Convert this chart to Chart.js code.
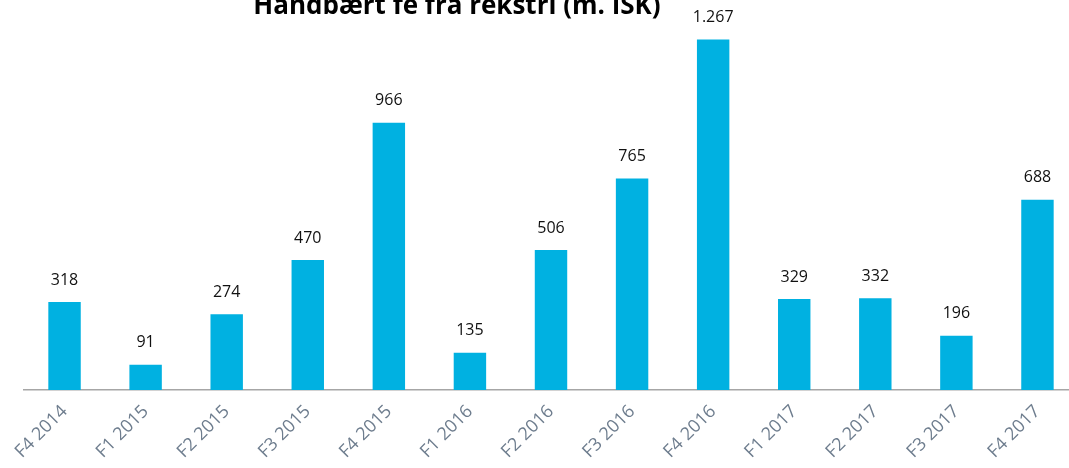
<!DOCTYPE html>
<html>
<head>
<meta charset="utf-8">
<script src="https://cdn.jsdelivr.net/npm/chart.js"></script>
<style>
  html, body { margin: 0; padding: 0; background: #fff; overflow: hidden; }
  #wrap { position: relative; width: 1080px; height: 468px; }
</style>
</head>
<body>
<div id="wrap"><canvas id="chart"></canvas></div>
<script>
const TITLE = 'Handbært fé frá rekstri (m. ISK)';
const quarters = ['F4 2014', 'F1 2015', 'F2 2015', 'F3 2015', 'F4 2015', 'F1 2016', 'F2 2016',
                  'F3 2016', 'F4 2016', 'F1 2017', 'F2 2017', 'F3 2017', 'F4 2017'];
const cashFlow = [318, 91, 274, 470, 966, 135, 506, 765, 1267, 329, 332, 196, 688];

// Icelandic style thousands separator
const fmt = v => String(v).replace(/\B(?=(\d{3})+(?!\d))/g, '.');

const labelsPlugin = {
    id: 'barLabels',
    afterDatasetsDraw(chart) {
        const ctx = chart.ctx;
        const meta = chart.getDatasetMeta(0);
        ctx.save();
        ctx.font = '16px "Open Sans", sans-serif';
        ctx.fillStyle = '#111';
        ctx.textAlign = 'center';
        ctx.textBaseline = 'middle';
        meta.data.forEach((bar, i) => {
            ctx.fillText(fmt(cashFlow[i]), bar.x, bar.y - 22);
        });
        ctx.restore();
    }
};

const titlePlugin = {
    id: 'cutTitle',
    afterDraw(chart) {
        const ctx = chart.ctx;
        ctx.save();
        ctx.font = 'bold 26px "Open Sans", sans-serif';
        ctx.fillStyle = '#000';
        ctx.textAlign = 'center';
        ctx.textBaseline = 'alphabetic';
        ctx.fillText(TITLE, 457, 14);
        ctx.restore();
    }
};

new Chart(document.getElementById('chart'), {
    type: 'bar',
    data: {
        labels: quarters,
        datasets: [{
            data: cashFlow,
            backgroundColor: '#00b1e1',
            barPercentage: 0.4,
            categoryPercentage: 1.0
        }]
    },
    options: {
        responsive: true,
        maintainAspectRatio: false,
        animation: false,
        layout: { padding: { left: 24, right: 2, top: 0, bottom: 0 } },
        plugins: { legend: { display: false }, tooltip: { enabled: false } },
        scales: {
            x: {
                grid: { display: false, drawTicks: false },
                border: { color: '#a6a6a6', width: 1.5 },
                ticks: {
                    color: '#6e7d8e',
                    font: { family: '"Open Sans", sans-serif', size: 18 },
                    maxRotation: 45, minRotation: 45, padding: 11
                },
                afterFit: scale => { scale.height = 78; }
            },
            y: { display: false, min: 0, max: 1410 }
        }
    },
    plugins: [labelsPlugin, titlePlugin]
});
</script>
</body>
</html>
